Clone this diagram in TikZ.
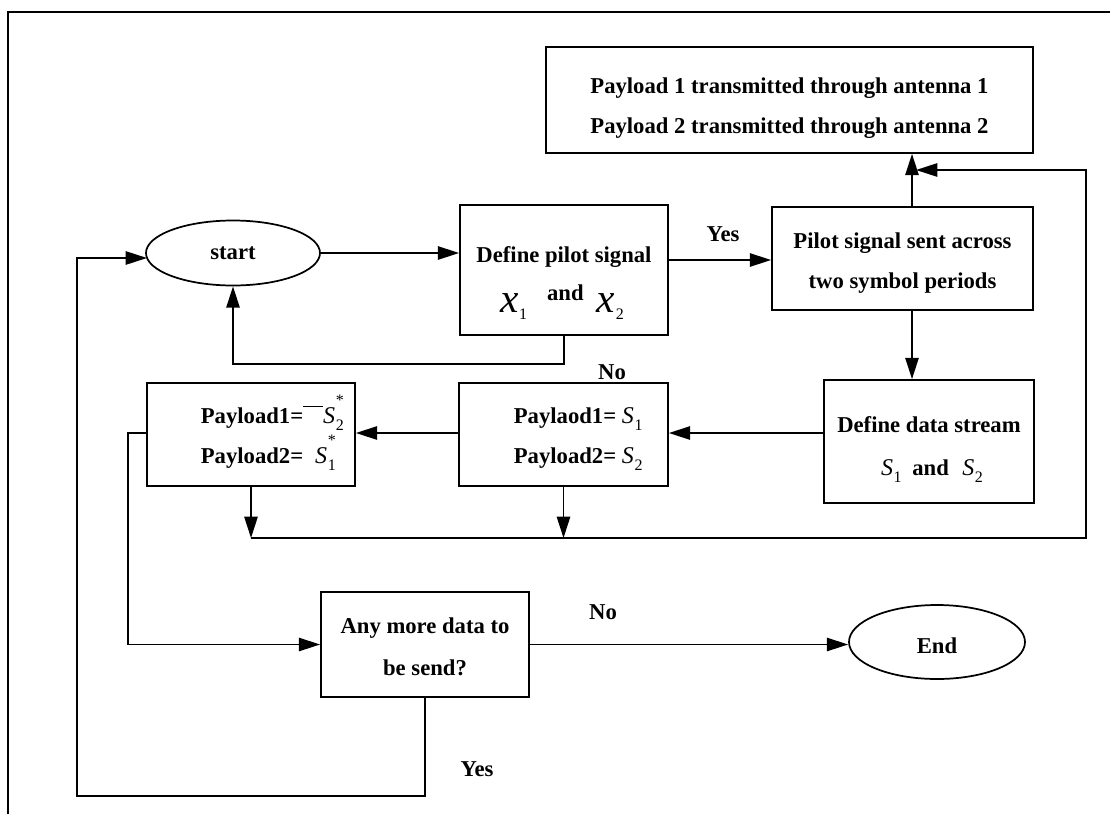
\documentclass[tikz,border=0pt]{standalone}
\usepackage{fontspec}
\usepackage{graphicx}
\setmainfont{Liberation Serif}
\usetikzlibrary{arrows.meta,shapes.geometric}

% italic symbol with a subscript
\newcommand\symb[3]{{\fontsize{#2}{#2}\selectfont\mdseries\itshape #1}\kern0.5pt\raisebox{-5.5pt}{\fontsize{12}{12}\selectfont\mdseries\upshape #3}}
% conjugated symbol: star stacked above the subscript
\newcommand\symbc[3]{{\fontsize{#2}{#2}\selectfont\mdseries\itshape #1}\kern0.5pt\rlap{\raisebox{13pt}{\fontsize{12}{12}\selectfont\mdseries\upshape *}}\raisebox{-5.5pt}{\fontsize{12}{12}\selectfont\mdseries\upshape #3}}

\begin{document}
\begin{tikzpicture}[x=0.75pt,y=-0.75pt,
  line width=1.3pt,
  flowbox/.style={draw,rectangle,inner sep=0pt},
  term/.style={draw,ellipse,inner sep=0pt},
  txt/.style={inner sep=0pt,anchor=base,font=\fontsize{17}{20}\selectfont\bfseries},
  arr/.style={-{Triangle[length=16pt,width=10pt]}}]

\useasboundingbox (0,0) rectangle (1110,814);

% outer frame
\draw (8,814) -- (8,12) -- (1110,12);

% boxes and terminals
\node[flowbox,minimum width=365.25pt,minimum height=79.5pt] (tx) at (789.5,100) {};
\node[txt] (tx1) at (789.5,93) {Payload 1 transmitted through antenna 1};
\node[txt] (tx2) at (789.5,133) {Payload 2 transmitted through antenna 2};

\node[term,minimum width=130.5pt,minimum height=48.75pt] (start) at (233,253) {};
\node[txt] (startT) at (233,259) {start};

\node[flowbox,minimum width=156pt,minimum height=97.5pt] (defp) at (564,270) {};
\node[txt] (defpT1) at (564,262) {Define pilot signal};
\node[txt] (defpT2) at (562,312) {\symb{x}{31}{1}\hspace{15pt}\raisebox{9pt}{and}\hspace{10pt}\symb{x}{31}{2}};

\node[flowbox,minimum width=195.75pt,minimum height=77.25pt] (pilot) at (902.5,258.5) {};
\node[txt] (pilotT1) at (902.5,248) {Pilot signal sent across};
\node[txt] (pilotT2) at (902.5,288) {two symbol periods};

\node[flowbox,minimum width=157.5pt,minimum height=92.25pt] (data) at (929,441.5) {};
\node[txt] (dataT1) at (929,432) {Define data stream};
\node[txt] (dataT2) at (932,475) {\symb{S}{18}{1}\hspace{8pt}and\hspace{10pt}\symb{S}{18}{2}};

\node[flowbox,minimum width=156.75pt,minimum height=77.25pt] (mid) at (563.5,434.5) {};
\node[txt,anchor=base west] (midT1) at (513,423) {Paylaod1= \symb{S}{18}{1}};
\node[txt,anchor=base west] (midT2) at (513,463) {Payload2= \symb{S}{18}{2}};

\node[flowbox,minimum width=156pt,minimum height=77.25pt] (conj) at (251,434.5) {};
\node[txt,anchor=base west] (conjT1) at (200,423) {Payload1=\rule[12pt]{15pt}{0.8pt}\symbc{S}{18}{2}};
\node[txt,anchor=base west] (conjT2) at (200,463) {Payload2=\hspace{9pt}\symbc{S}{18}{1}};

\node[flowbox,minimum width=156pt,minimum height=78.75pt] (more) at (425,644.5) {};
\node[txt] (moreT1) at (425,633) {Any more data to};
\node[txt] (moreT2) at (425,675) {be send?};

\node[term,minimum width=132pt,minimum height=55.5pt] (end) at (937,642) {};
\node[txt] (endT) at (937,653) {End};

% branch labels
\node[txt] (lYes1) at (723,241) {Yes};
\node[txt] (lNo1) at (612,379) {No};
\node[txt] (lNo2) at (603,619) {No};
\node[txt] (lYes2) at (477,776) {Yes};

% helper coordinates
\coordinate (ax) at (912,0);
\coordinate (rowY) at (0,433);
\coordinate (busY) at (0,538);
\coordinate (yesY) at (0,260);
\coordinate (busR) at (1086,538);
\coordinate (loopR) at (1086,170);
\coordinate (loopEnd) at (916,170);
\coordinate (leftX) at (128,0);
\coordinate (outerX) at (77,0);
\coordinate (botY) at (0,796);
\coordinate (startIn) at (147,258);

% connectors
\draw[arr] (start.east) -- (start.east -| defp.west);
\draw[arr] (defp.east |- yesY) -- (pilot.west |- yesY);
\draw[arr] (defp.south) -- ++(0,28) -| (start.south);
\draw[arr] (pilot.north -| ax) -- (tx.south -| ax);
\draw[arr] (pilot.south -| ax) -- (data.north -| ax);
\draw[arr] (data.west |- rowY) -- (mid.east |- rowY);
\draw[arr] (mid.west |- rowY) -- (conj.east |- rowY);
\draw[arr] (conj.south) -- (conj.south |- busY);
\draw[arr] (mid.south) -- (mid.south |- busY);
\draw[arr] (conj.south |- busY) -- (busR) -- (loopR) -- (loopEnd);
\draw[arr] (conj.west |- rowY) -- (leftX |- rowY) -- (leftX |- more.west) -- (more.west);
\draw[arr] (more.east) -- (more.east -| end.west);
\draw[arr] (more.south) -- (more.south |- botY) -- (outerX |- botY) -- (outerX |- startIn) -- (startIn);
\end{tikzpicture}
\end{document}
